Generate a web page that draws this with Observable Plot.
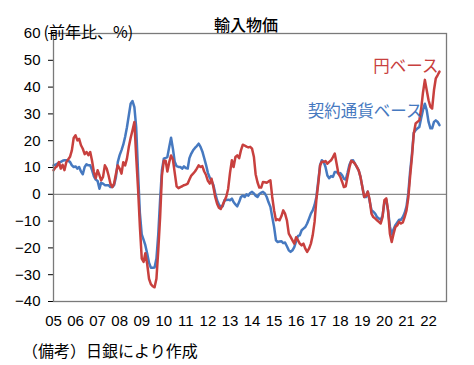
<!DOCTYPE html>
<html>
<head>
<meta charset="utf-8">
<script src="https://cdn.jsdelivr.net/npm/d3@7"></script>
<script src="https://cdn.jsdelivr.net/npm/@observablehq/plot@0.6"></script>
<style>
  body { margin: 0; background: #fff; }
  svg { display: block; }
  #caption { font-family: "Noto Sans CJK JP", sans-serif; font-size: 16px; color: #000;
             padding-left: 22px; height: 28px; line-height: 26px; }
</style>
</head>
<body>
<div id="chart"></div>
<div id="caption"></div>
<script>
// ---- data (monthly, from Jan 2005) ----
const startYear = 2005;
const yearLabels = ["05","06","07","08","09","10","11","12","13","14","15","16","17","18","19","20","21","22"];
const yTicks = [-40, -30, -20, -10, 0, 10, 20, 30, 40, 50, 60];
const titleText = "輸入物価";
const yLabelText = "(前年比、%)";
const captionText = "（備考）日銀により作成";
const seriesNames = ["円ベース", "契約通貨ベース"];

// 円ベース (yen basis), y/y %
const yenBase = [
  9, 10, 10.5, 12, 9.6, 11, 9, 12, 13, 14,
  16.4, 21, 22, 20.1, 20.7, 18.3, 17, 15, 15.8, 14.6,
  15.8, 12.5, 8.3, 6, 9, 7.1, 5.2, 6.5, 10.8, 9.6,
  7.1, 4, 2.7, 4, 7.7, 10.8, 9.6, 7.7, 12, 10.8,
  13.3, 17.7, 21, 23.9, 27, 14, 2, -12, -24, -25.2,
  -22, -26, -31.5, -33.5, -34.3, -34.7, -31.5, -21, -8.5, 7,
  12.5, 12.5, 8.5, 12, 14.5, 13, 8, 3, 2.3, 2.7,
  3, 3.4, 3.6, 4, 5.5, 7, 7.7, 8.5, 9.6, 10.8,
  10.2, 10.5, 8.5, 7.2, 5, 4, 5.8, 2.7, -1, -3.5,
  -5, -5.5, -4, -2.5, -0.8, 2, 8, 12.7, 10.2, 13.9,
  14.5, 13.5, 16.4, 18.5, 18.2, 17.8, 17.5, 17.7, 17, 13.9,
  7.5, 4.5, 2.5, 2.5, 4.6, 4.5, 4.3, 4.8, 5.2, -1,
  -6, -9.7, -9.3, -9.7, -8.2, -6, -7.2, -9.7, -14.7, -15.9,
  -17.2, -18.4, -16, -17.2, -18.4, -19.1, -18.4, -20.3, -21.5, -20.3,
  -18.4, -15.3, -10.3, -2, 4, 10.8, 12.1, 12.1, 12.4, 11.4,
  12.1, 12.7, 13.9, 15.2, 11.4, 7.7, 6.5, 4.6, 2.7, 3,
  6.5, 10, 12.5, 12.1, 11.4, 10.2, 8.9, 6.5, 2.7, -1,
  -0.5, 1, -2, -7.2, -8.5, -9, -9.7, -10.3, -10.9, -8.5,
  -2.2, -1.5, -6, -14.7, -17.8, -14.7, -12.2, -11.6, -10.3, -10.9,
  -10.5, -8.5, -6, -1, 6.5, 14, 22.6, 26.4, 27, 27.6,
  32, 38, 42.7, 38.9, 35.1, 32.6, 32, 38.9, 43.3, 44.5,
  45.8
];

// 契約通貨ベース (contract currency basis), y/y %
const contractBase = [
  10.8, 11, 11.4, 11.8, 12.1, 12.5, 12.7, 12.7, 12.5, 12.1,
  10.8, 10.2, 10.4, 9.6, 10.2, 8.5, 7.5, 10.2, 11.2, 10.8,
  10.8, 9, 6.7, 5.5, 5, 2.1, 4.3, 4, 3.4, 3.4,
  3.4, 2.7, 2.7, 3.4, 6.5, 12, 14.6, 16.5, 18.5, 21.5,
  25, 29.5, 33.8, 34.8, 32.5, 25, 8, -7, -15, -17,
  -19, -22.1, -25.5, -27.4, -27.4, -27.3, -24, -15, -2, 9,
  13.3, 13.6, 13.9, 17.7, 21.1, 17, 12.1, 10.5, 10.2, 10.2,
  9.6, 10.4, 9.8, 9.6, 13.5, 15.2, 16.4, 17.3, 18, 18.9,
  17.7, 16, 13.5, 11, 8, 6.2, 5, 3.5, 0.5, -2.2,
  -3.8, -4.7, -4.5, -2.2, -2.1, -2, -2.2, -1.6, -2.9, -3.8,
  -4.5, -2.9, -1, -0.5, -1, 0, -0.5, 0.5, 0.9, 0.3,
  -0.5, -1, 0.1, 0.6, 0.9, 0.3, -1, -3, -4.7, -8.5,
  -12.2, -17.2, -17.8, -17.6, -17.5, -18.2, -18, -19.4, -20.9, -21.5,
  -20.9, -19.7, -17.5, -15.5, -15.3, -13.4, -12.8, -12.2, -10.9, -9.1,
  -7.2, -6, -4, -1, 5, 11, 12.7, 12.1, 10.2, 7,
  6, 6.8, 6.5, 8.3, 8.3, 7.7, 7.9, 7.1, 5.8, 5.5,
  8, 11, 12.5, 12.7, 11.4, 10.2, 8.9, 6.5, 2.7, -1,
  -1, 1, -2.5, -5.9, -6.5, -7.2, -8.5, -9, -9.5, -8,
  -3, -2, -6, -12, -15, -13, -11.5, -10.5, -9.5, -9.5,
  -8.5, -7, -4.5, 0.7, 8.4, 15, 23, 23.9, 24.6, 25.1,
  28.5, 31.5, 33.8, 31.4, 27, 24.6, 24.6, 27, 27.6, 27,
  25.8
];

// ---- build ----
const monthDate = i => new Date(Date.UTC(startYear, i, 1));
const yenRows = yenBase.map((v, i) => ({date: monthDate(i), value: v}));
const contractRows = contractBase.map((v, i) => ({date: monthDate(i), value: v}));
const xTicks = yearLabels.map((_, i) => new Date(Date.UTC(startYear + i, 0, 1)));

const red = "#c8403e";
const blue = "#4679c0";
const numFont = '"Liberation Sans", Arial, sans-serif';
const cjkFont = '"Noto Sans CJK JP", sans-serif';

const chart = Plot.plot({
  width: 474,
  height: 337,
  marginTop: 33,
  marginBottom: 36,
  marginLeft: 53,
  marginRight: 28,
  style: {fontFamily: numFont, fontSize: "15px", color: "#000", background: "#fff"},
  x: {
    type: "utc",
    domain: [monthDate(0), new Date(Date.UTC(startYear, 213, 25))],
    ticks: xTicks,
    tickFormat: d => yearLabels[d.getUTCFullYear() - startYear],
    tickSize: 0,
    tickPadding: 14,
    label: null
  },
  y: {
    domain: [-40, 60],
    ticks: yTicks,
    tickSize: 5,
    tickPadding: 8,
    label: null
  },
  marks: [
    Plot.ruleY([0], {stroke: "#8a8a8a", strokeWidth: 1.2}),
    Plot.line(contractRows, {x: "date", y: "value", stroke: blue, strokeWidth: 2.5}),
    Plot.line(yenRows, {x: "date", y: "value", stroke: red, strokeWidth: 2.5}),
    Plot.frame({stroke: "#7a7a7a", strokeWidth: 1.3}),
    Plot.text([titleText], {text: d => d, frameAnchor: "top", dx: -4, dy: -14,
      fontFamily: cjkFont, fontSize: 16, fontWeight: 500, fill: "#000"}),
    Plot.text([yLabelText], {text: d => d, frameAnchor: "top-left", textAnchor: "start",
      dx: -10, dy: -7, fontFamily: cjkFont, fontSize: 16, fill: "#000"}),
    Plot.text([seriesNames[0]], {text: d => d, frameAnchor: "top-right", textAnchor: "end",
      dx: -8, dy: 27, fontFamily: cjkFont, fontSize: 16.5, fill: red}),
    Plot.text([seriesNames[1]], {text: d => d, frameAnchor: "top-right", textAnchor: "end",
      dx: -24, dy: 72, fontFamily: cjkFont, fontSize: 16.5, fill: blue})
  ]
});
document.getElementById("chart").appendChild(chart);
document.getElementById("caption").textContent = captionText;
</script>
</body>
</html>
